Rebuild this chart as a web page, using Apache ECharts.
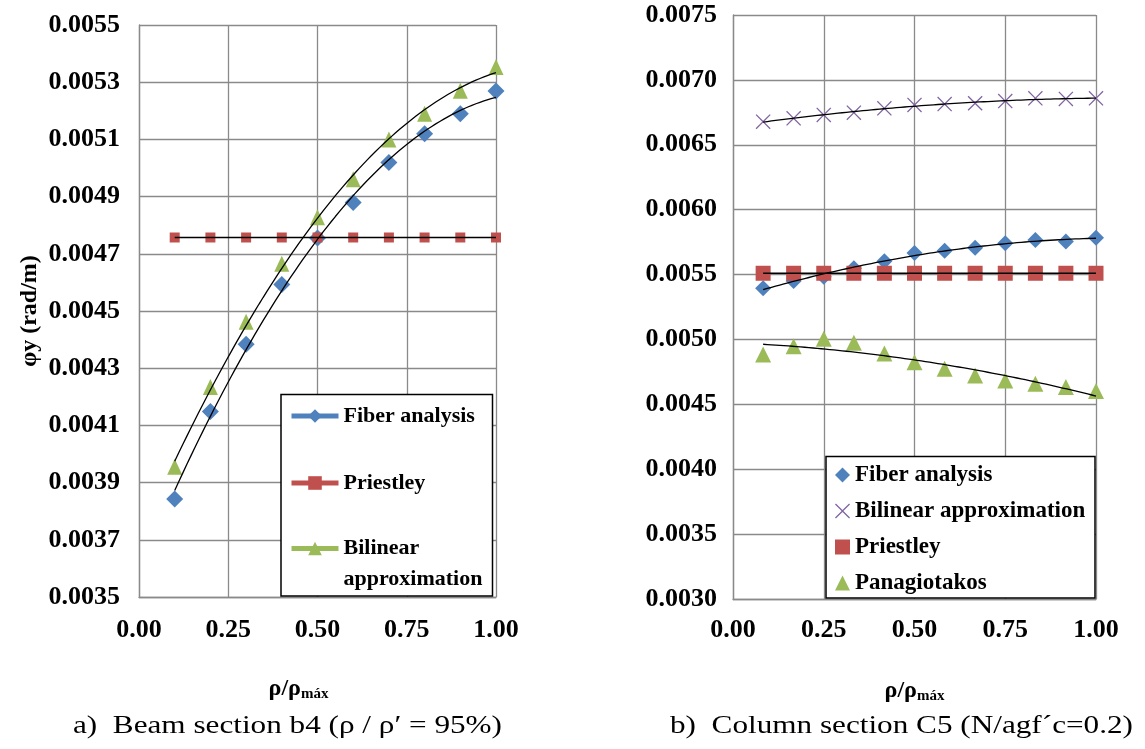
<!DOCTYPE html>
<html><head><meta charset="utf-8">
<script src="https://cdn.jsdelivr.net/npm/echarts@6/dist/echarts.min.js"></script>
<style>html,body{margin:0;padding:0;background:#fff}#c{width:1145px;height:749px}</style>
</head><body><div id="c"></div>
<script>
// ---- data (a) Beam section b4 ----
const beamX = [0.1, 0.2, 0.3, 0.4, 0.5, 0.6, 0.7, 0.8, 0.9, 1.0];
const beamFiber = [0.003843, 0.004149, 0.004384, 0.004593, 0.004755, 0.004879, 0.005019, 0.005120, 0.005190, 0.005269];
const beamPriestley = [0.004757, 0.004757, 0.004757, 0.004757, 0.004757, 0.004757, 0.004757, 0.004757, 0.004757, 0.004757];
const beamBilinear = [0.003955, 0.004234, 0.004462, 0.004665, 0.004828, 0.004961, 0.005100, 0.005190, 0.005270, 0.005353];
// ---- data (b) Column section C5 ----
const colX = [0.083, 0.167, 0.25, 0.333, 0.417, 0.5, 0.583, 0.667, 0.75, 0.833, 0.917, 1.0];
const colFiber = [0.005394, 0.005451, 0.005484, 0.005549, 0.005602, 0.005666, 0.005684, 0.005707, 0.005741, 0.005767, 0.005754, 0.005784];
const colBilinear = [0.006678, 0.006704, 0.006730, 0.006747, 0.006781, 0.006807, 0.006814, 0.006820, 0.006837, 0.006858, 0.006853, 0.006858];
const colPriestley = [0.00551, 0.00551, 0.00551, 0.00551, 0.00551, 0.00551, 0.00551, 0.00551, 0.00551, 0.00551, 0.00551, 0.00551];
const colPanagiotakos = [0.004884, 0.004948, 0.005005, 0.004975, 0.004892, 0.004825, 0.004774, 0.004723, 0.004684, 0.004659, 0.004633, 0.004602];
// ---- axes ----
const xTicks = [0, 0.25, 0.5, 0.75, 1.0];
const beamYRange = [0.0035, 0.0055, 0.0002];
const colYRange = [0.0030, 0.0075, 0.0005];

const BLUE = '#4F81BD', RED = '#C0504D', GREEN = '#9BBB59', PURPLE = '#8064A2';
const FONT = 'Liberation Serif, Times New Roman, serif';
const GRIDC = '#8a8a8a';
const XPATH = 'path://M0,1.2 L1.2,0 L10,8.8 L18.8,0 L20,1.2 L11.2,10 L20,18.8 L18.8,20 L10,11.2 L1.2,20 L0,18.8 L8.8,10 Z';

// least-squares polynomial trendline (like a spreadsheet trendline)
function polyfit(xs, ys, deg) {
  const n = deg + 1;
  const A = [], b = [];
  for (let i = 0; i < n; i++) {
    A.push(new Array(n).fill(0)); b.push(0);
  }
  for (let k = 0; k < xs.length; k++) {
    for (let i = 0; i < n; i++) {
      for (let j = 0; j < n; j++) A[i][j] += Math.pow(xs[k], i + j);
      b[i] += ys[k] * Math.pow(xs[k], i);
    }
  }
  for (let i = 0; i < n; i++) {
    let p = i;
    for (let r = i + 1; r < n; r++) if (Math.abs(A[r][i]) > Math.abs(A[p][i])) p = r;
    [A[i], A[p]] = [A[p], A[i]]; [b[i], b[p]] = [b[p], b[i]];
    for (let r = i + 1; r < n; r++) {
      const f = A[r][i] / A[i][i];
      for (let c = i; c < n; c++) A[r][c] -= f * A[i][c];
      b[r] -= f * b[i];
    }
  }
  const c = new Array(n).fill(0);
  for (let i = n - 1; i >= 0; i--) {
    let s = b[i];
    for (let j = i + 1; j < n; j++) s -= A[i][j] * c[j];
    c[i] = s / A[i][i];
  }
  return c;
}
function trend(xs, ys, deg) {
  const c = polyfit(xs, ys, deg);
  const x0 = xs[0], x1 = xs[xs.length - 1], out = [];
  for (let i = 0; i <= 80; i++) {
    const x = x0 + (x1 - x0) * i / 80;
    let y = 0;
    for (let k = 0; k < c.length; k++) y += c[k] * Math.pow(x, k);
    out.push([x, y]);
  }
  return out;
}
const pairs = (xs, ys) => xs.map((x, i) => [x, ys[i]]);

function markerSeries(name, xs, ys, idx, color, symbol, size, type) {
  return {
    name, type: type || 'line', xAxisIndex: idx, yAxisIndex: idx,
    data: pairs(xs, ys), color, symbol, symbolSize: size, showSymbol: true,
    lineStyle: { opacity: 0 }, itemStyle: { color, opacity: 1 }, z: 2, silent: true, animation: false
  };
}
function trendSeries(xs, ys, idx, deg) {
  return {
    name: 'trend', type: 'line', xAxisIndex: idx, yAxisIndex: idx,
    data: trend(xs, ys, deg), showSymbol: false, symbol: 'none',
    lineStyle: { color: '#000', width: 1.3 }, z: 3, silent: true, animation: false
  };
}

const axisLabelY = { fontFamily: FONT, fontWeight: 'bold', fontSize: 26, color: '#000' };
const axisLabelX = { fontFamily: FONT, fontWeight: 'bold', fontSize: 26, color: '#000' };
const xName = '{a|ρ/ρ}{b|máx}';
const xNameStyle = {
  rich: {
    a: { fontFamily: FONT, fontWeight: 'bold', fontSize: 24, color: '#000' },
    b: { fontFamily: FONT, fontWeight: 'bold', fontSize: 15, color: '#000', padding: [12, 0, 0, 0] }
  }
};

function xAxis(idx, margin, pad) {
  return {
    type: 'value', gridIndex: idx, min: xTicks[0], max: xTicks[xTicks.length - 1], interval: xTicks[1] - xTicks[0],
    axisLine: { lineStyle: { color: GRIDC, width: 1.3 } }, axisTick: { show: false },
    splitLine: { lineStyle: { color: GRIDC, width: 1.3 } },
    axisLabel: Object.assign({ margin, formatter: v => v.toFixed(2) }, axisLabelX),
    name: xName, nameLocation: 'middle', nameGap: 78,
    nameTextStyle: Object.assign({ padding: pad }, xNameStyle)
  };
}
function yAxis(idx, r, margin, extra) {
  return Object.assign({
    type: 'value', gridIndex: idx, min: r[0], max: r[1], interval: r[2],
    axisLine: { show: true, lineStyle: { color: GRIDC, width: 1.3 } }, axisTick: { show: false },
    splitLine: { lineStyle: { color: GRIDC, width: 1.3 } },
    axisLabel: Object.assign({ margin, formatter: v => v.toFixed(4) }, axisLabelY)
  }, extra || {});
}

const legendText = { fontFamily: FONT, fontWeight: 'bold', fontSize: 22, color: '#000', lineHeight: 26 };

const option = {
  animation: false,
  backgroundColor: '#fff',
  grid: [
    { left: 139, top: 25, width: 357, height: 572 },
    { left: 733, top: 15, width: 363, height: 584 }
  ],
  xAxis: [xAxis(0, 20, [0, 38, 0, 0]), xAxis(1, 18, [0, 0, 0, 0])],
  yAxis: [
    yAxis(0, beamYRange, 19, {
      name: 'φy (rad/m)', nameLocation: 'middle', nameGap: 97, nameRotate: 90,
      nameTextStyle: { fontFamily: FONT, fontWeight: 'bold', fontSize: 24, color: '#000' }
    }),
    yAxis(1, colYRange, 16)
  ],
  legend: [
    { data: ['Fiber analysis'], left: 289, top: 403, orient: 'vertical', padding: 0, itemWidth: 47, itemHeight: 17,
      textStyle: legendText, lineStyle: { width: 5, opacity: 1 }, z: 10, selectedMode: false },
    { data: ['Priestley'], left: 289, top: 470, orient: 'vertical', padding: 0, itemWidth: 47, itemHeight: 17,
      textStyle: legendText, lineStyle: { width: 5, opacity: 1 }, z: 10, selectedMode: false },
    { data: ['Bilinear approximation'], left: 289, top: 502, orient: 'vertical', padding: 0, itemWidth: 47, itemHeight: 17,
      formatter: () => '{a| }\n{a|Bilinear}\n{a|approximation}',
      textStyle: Object.assign({}, legendText, { rich: { a: { fontFamily: FONT, fontWeight: 'bold', fontSize: 22, color: '#000', lineHeight: 31 } } }),
      lineStyle: { width: 5, opacity: 1 }, z: 10, selectedMode: false },
    { data: ['Fiber analysis ', 'Bilinear approximation ', 'Priestley ', 'Panagiotakos'], left: 835, top: 463, orient: 'vertical',
      padding: 0, itemWidth: 15, itemHeight: 15, itemGap: 12,
      textStyle: { fontFamily: FONT, fontWeight: 'bold', fontSize: 23, color: '#000', lineHeight: 24 }, z: 10, selectedMode: false }
  ],
  graphic: [
    { type: 'rect', z: 5, shape: { x: 281, y: 394.5, width: 211.5, height: 201.5 }, style: { fill: '#fff', stroke: '#000', lineWidth: 1.5 } },
    { type: 'rect', z: 5, shape: { x: 826, y: 456.5, width: 269, height: 141.5 }, style: { fill: '#fff', stroke: '#000', lineWidth: 1.5 } },
    { type: 'text', z: 5, x: 73, y: 713, scaleX: 1.2, style: { text: 'a)  Beam section b4 (ρ / ρ′ = 95%)', font: '26px ' + FONT, fill: '#000' } },
    { type: 'text', z: 5, x: 670, y: 713, scaleX: 1.2, style: { text: 'b)  Column section C5 (N/agf´c=0.2)', font: '26px ' + FONT, fill: '#000' } }
  ],
  series: [
    markerSeries('Fiber analysis', beamX, beamFiber, 0, BLUE, 'diamond', 17),
    markerSeries('Priestley', beamX, beamPriestley, 0, RED, 'rect', 10),
    markerSeries('Bilinear approximation', beamX, beamBilinear, 0, GREEN, 'triangle', [15, 16]),
    trendSeries(beamX, beamFiber, 0, 2),
    trendSeries(beamX, beamPriestley, 0, 0),
    trendSeries(beamX, beamBilinear, 0, 2),
    markerSeries('Fiber analysis ', colX, colFiber, 1, BLUE, 'diamond', 16, 'scatter'),
    markerSeries('Bilinear approximation ', colX, colBilinear, 1, PURPLE, XPATH, 15, 'scatter'),
    markerSeries('Priestley ', colX, colPriestley, 1, RED, 'rect', 15, 'scatter'),
    markerSeries('Panagiotakos', colX, colPanagiotakos, 1, GREEN, 'triangle', 16, 'scatter'),
    trendSeries(colX, colFiber, 1, 2),
    trendSeries(colX, colBilinear, 1, 2),
    trendSeries(colX, colPriestley, 1, 0),
    trendSeries(colX, colPanagiotakos, 1, 2)
  ]
};
const chart = echarts.init(document.getElementById('c'), null, { renderer: 'canvas' });
chart.setOption(option);
</script></body></html>
